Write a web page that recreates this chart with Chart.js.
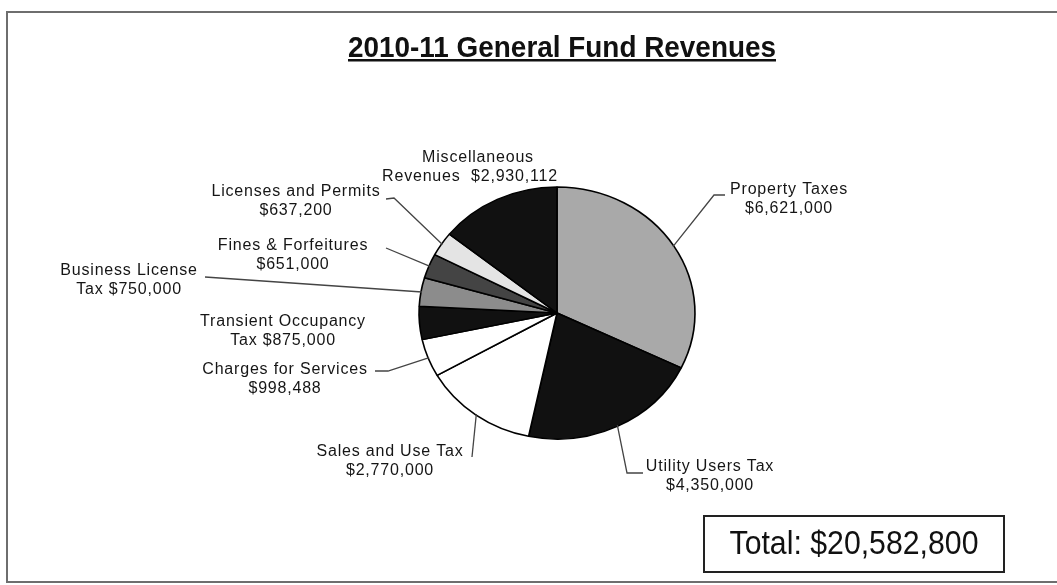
<!DOCTYPE html>
<html>
<head>
<meta charset="utf-8">
<title>2010-11 General Fund Revenues</title>
<script src="https://cdn.jsdelivr.net/npm/chart.js@4/dist/chart.umd.min.js"></script>
<style>
  html, body { margin: 0; padding: 0; background: #fff; }
  #wrap { position: relative; width: 1057px; height: 585px; }
</style>
</head>
<body>
<div id="wrap"><canvas id="revChart" width="1057" height="585"></canvas></div>
<script>
const categories = ['Property Taxes', 'Utility Users Tax', 'Sales and Use Tax', 'Charges for Services',
  'Transient Occupancy Tax', 'Business License Tax', 'Fines & Forfeitures', 'Licenses and Permits',
  'Miscellaneous Revenues'];
const revenues = [6621000, 4350000, 2770000, 998488, 875000, 750000, 651000, 637200, 2930112];
const labelHeads = ['Property Taxes', 'Utility Users Tax', 'Sales and Use Tax', 'Charges for Services',
  'Transient Occupancy', 'Business License', 'Fines & Forfeitures', 'Licenses and Permits', 'Miscellaneous'];
const labelLeads = ['', '', '', '', 'Tax ', 'Tax ', '', '', 'Revenues  '];
const sliceColors = ['#a9a9a9', '#111111', '#ffffff', '#ffffff', '#111111', '#8c8c8c', '#444444', '#e4e4e4', '#111111'];

// where each label sits and where its leader line starts (null = no leader)
const labelSpots = [
  { x: 789, y: 190, leader: [[725, 195], [714, 195]] },
  { x: 710, y: 467, leader: [[643, 473], [627, 473]] },
  { x: 390, y: 452, leader: [[472, 457]] },
  { x: 285, y: 370, leader: [[375, 371], [388, 371]] },
  { x: 283, y: 322, leader: null },
  { x: 129, y: 271, leader: [[205, 277]] },
  { x: 293, y: 246, leader: [[386, 248]] },
  { x: 296, y: 192, leader: [[386, 199], [394, 198]] },
  { x: 478, y: 158, leader: null }
];

const STRETCH = 1.095;   // pie is a touch wider than tall
const money = v => '$' + v.toLocaleString('en-US');

// draw text squeezed horizontally around its centre
function narrowText(ctx, text, x, y, sx) {
  ctx.save();
  ctx.translate(x, y);
  ctx.scale(sx, 1);
  ctx.fillText(text, 0, 0);
  const w = ctx.measureText(text).width * sx;
  ctx.restore();
  return w;
}

const stretchPie = {
  id: 'stretchPie',
  beforeDatasetsDraw(chart) {
    const arc = chart.getDatasetMeta(0).data[0];
    const ctx = chart.ctx;
    ctx.save();
    ctx.translate(arc.x, arc.y);
    ctx.scale(STRETCH, 1);
    ctx.translate(-arc.x, -arc.y);
  },
  afterDatasetsDraw(chart) {
    chart.ctx.restore();
  }
};

const decorations = {
  id: 'decorations',
  afterDraw(chart) {
    const ctx = chart.ctx;
    const arcs = chart.getDatasetMeta(0).data;

    // outer frame
    ctx.save();
    ctx.strokeStyle = '#6e6e6e';
    ctx.lineWidth = 2;
    ctx.beginPath();
    ctx.moveTo(1057, 12);
    ctx.lineTo(7, 12);
    ctx.lineTo(7, 582);
    ctx.lineTo(1057, 582);
    ctx.stroke();

    // title with underline
    ctx.fillStyle = '#111';
    ctx.font = 'bold 30px "Liberation Sans", Arial, sans-serif';
    ctx.textAlign = 'center';
    ctx.textBaseline = 'alphabetic';
    const tw = narrowText(ctx, '2010-11 General Fund Revenues', 562, 57, 0.93);
    ctx.fillRect(562 - tw / 2, 59, tw, 2.5);

    // leader lines
    ctx.strokeStyle = '#444';
    ctx.lineWidth = 1.3;
    labelSpots.forEach((spot, i) => {
      if (!spot.leader) return;
      const a = arcs[i];
      const mid = (a.startAngle + a.endAngle) / 2;
      const r = a.outerRadius - 1;
      const px = a.x + Math.cos(mid) * r * STRETCH;
      const py = a.y + Math.sin(mid) * r;
      ctx.beginPath();
      ctx.moveTo(spot.leader[0][0], spot.leader[0][1]);
      spot.leader.slice(1).forEach(p => ctx.lineTo(p[0], p[1]));
      ctx.lineTo(px, py);
      ctx.stroke();
    });

    // slice labels
    ctx.fillStyle = '#151515';
    ctx.font = '16px "Liberation Sans", Arial, sans-serif';
    ctx.letterSpacing = '0.8px';
    ctx.textBaseline = 'middle';
    labelSpots.forEach((spot, i) => {
      ctx.fillText(labelHeads[i], spot.x, spot.y);
      ctx.fillText(labelLeads[i] + money(revenues[i]), spot.x - (i === 8 ? 8 : 0), spot.y + 19);
    });
    ctx.letterSpacing = '0px';

    // total box
    const total = revenues.reduce((s, v) => s + v, 0);
    ctx.lineWidth = 2;
    ctx.strokeStyle = '#222';
    ctx.strokeRect(704, 516, 300, 56);
    ctx.fillStyle = '#111';
    ctx.font = '34px "Liberation Sans", Arial, sans-serif';
    narrowText(ctx, 'Total: ' + money(total), 854, 545, 0.89);
    ctx.restore();
  }
};

new Chart(document.getElementById('revChart'), {
  type: 'pie',
  data: {
    labels: categories,
    datasets: [{
      data: revenues,
      backgroundColor: sliceColors,
      borderColor: '#000',
      borderWidth: 1.5
    }]
  },
  options: {
    responsive: false,
    animation: false,
    radius: 126,
    layout: { padding: { top: 187, bottom: 146, left: 300, right: 243 } },
    plugins: {
      legend: { display: false },
      title: { display: false },
      tooltip: { enabled: false }
    }
  },
  plugins: [stretchPie, decorations]
});
</script>
</body>
</html>
